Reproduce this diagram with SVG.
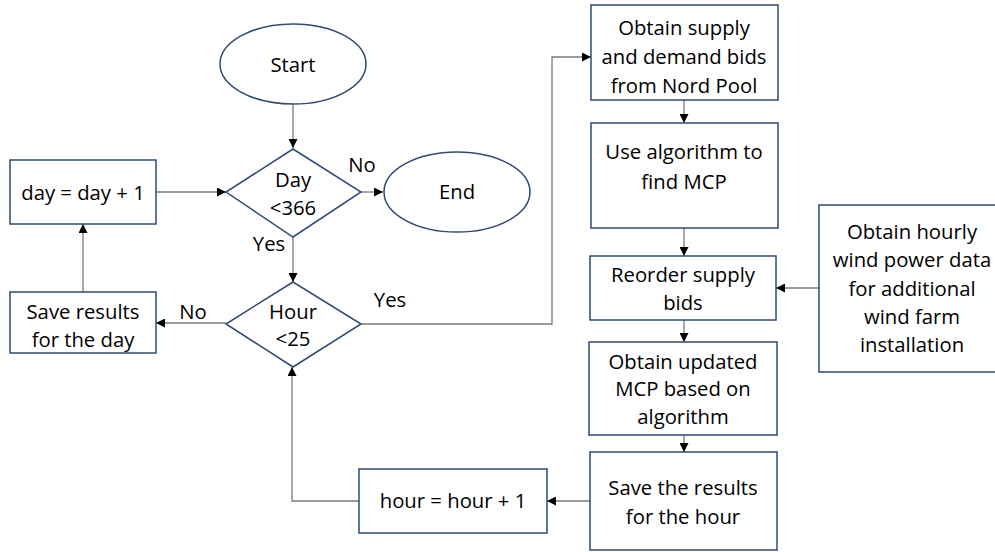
<svg xmlns="http://www.w3.org/2000/svg" width="995" height="552" viewBox="0 0 995 552">
  <style>
    .shape { fill: #ffffff; stroke: #2F4A74; stroke-width: 1.5; }
    .conn { fill: none; stroke: #7a7a7a; stroke-width: 1.3; }
    text { font-family: "Open Sans", "Noto Sans", sans-serif; font-size: 20.3px; fill: #000000; text-anchor: middle; }
  </style>
  <defs>
    <marker id="arrow" viewBox="0 0 10 10" refX="10" refY="5" markerWidth="9" markerHeight="9" markerUnits="userSpaceOnUse" orient="auto">
      <path d="M0,0 L10,5 L0,10 Z" fill="#000000"/>
    </marker>
  </defs>
  <rect width="995" height="552" fill="#ffffff"/>

  <g id="connectors">
    <line class="conn" x1="293" y1="104" x2="293" y2="148" marker-end="url(#arrow)"/>
    <line class="conn" x1="361" y1="192" x2="383" y2="192" marker-end="url(#arrow)"/>
    <line class="conn" x1="293" y1="237" x2="293" y2="282" marker-end="url(#arrow)"/>
    <line class="conn" x1="156" y1="192" x2="226" y2="192" marker-end="url(#arrow)"/>
    <line class="conn" x1="83" y1="292" x2="83" y2="224" marker-end="url(#arrow)"/>
    <line class="conn" x1="226" y1="323" x2="156" y2="323" marker-end="url(#arrow)"/>
    <polyline class="conn" points="361,324 552,324 552,57 591,57" marker-end="url(#arrow)"/>
    <line class="conn" x1="684" y1="100" x2="684" y2="123" marker-end="url(#arrow)"/>
    <line class="conn" x1="684" y1="228" x2="684" y2="256" marker-end="url(#arrow)"/>
    <line class="conn" x1="684" y1="320" x2="684" y2="342" marker-end="url(#arrow)"/>
    <line class="conn" x1="684" y1="435" x2="684" y2="452" marker-end="url(#arrow)"/>
    <line class="conn" x1="819" y1="288" x2="776" y2="288" marker-end="url(#arrow)"/>
    <line class="conn" x1="590" y1="501" x2="547" y2="501" marker-end="url(#arrow)"/>
    <polyline class="conn" points="359,501 292,501 292,367" marker-end="url(#arrow)"/>
    <text x="362" y="172">No</text>
    <text x="269" y="251">Yes</text>
    <text x="390" y="307">Yes</text>
    <text x="193" y="319">No</text>
  </g>

  <g id="start">
    <ellipse class="shape" cx="293" cy="64" rx="73" ry="40"/>
    <text x="293" y="72">Start</text>
  </g>
  <g id="day-check">
    <polygon class="shape" points="293,149 361,192 293,237 226,192"/>
    <text x="293" y="187">Day</text>
    <text x="293" y="215">&lt;366</text>
  </g>
  <g id="end">
    <ellipse class="shape" cx="457" cy="192" rx="73" ry="40"/>
    <text x="457" y="199">End</text>
  </g>
  <g id="day-inc">
    <rect class="shape" x="10" y="160" width="146" height="64"/>
    <text x="83" y="200">day = day + 1</text>
  </g>
  <g id="save-day">
    <rect class="shape" x="10" y="292" width="146" height="61"/>
    <text x="83" y="319">Save results</text>
    <text x="83" y="347">for the day</text>
  </g>
  <g id="hour-check">
    <polygon class="shape" points="293,282 361,324 293,367 226,324"/>
    <text x="293" y="319">Hour</text>
    <text x="293" y="346">&lt;25</text>
  </g>
  <g id="obtain-bids">
    <rect class="shape" x="591" y="5" width="187" height="95"/>
    <text x="684" y="35">Obtain supply</text>
    <text x="684" y="64">and demand bids</text>
    <text x="684" y="93">from Nord Pool</text>
  </g>
  <g id="find-mcp">
    <rect class="shape" x="591" y="123" width="187" height="105"/>
    <text x="684" y="159">Use algorithm to</text>
    <text x="684" y="189">find MCP</text>
  </g>
  <g id="reorder">
    <rect class="shape" x="590" y="256" width="186" height="64"/>
    <text x="683" y="282">Reorder supply</text>
    <text x="683" y="310">bids</text>
  </g>
  <g id="updated-mcp">
    <rect class="shape" x="589" y="342" width="188" height="93"/>
    <text x="683" y="369">Obtain updated</text>
    <text x="683" y="396">MCP based on</text>
    <text x="683" y="424">algorithm</text>
  </g>
  <g id="save-hour">
    <rect class="shape" x="590" y="452" width="187" height="98"/>
    <text x="683" y="495">Save the results</text>
    <text x="683" y="524">for the hour</text>
  </g>
  <g id="wind-data">
    <rect class="shape" x="819" y="205" width="186" height="167"/>
    <text x="912" y="239">Obtain hourly</text>
    <text x="912" y="267">wind power data</text>
    <text x="912" y="296">for additional</text>
    <text x="912" y="324">wind farm</text>
    <text x="912" y="352">installation</text>
  </g>
  <g id="hour-inc">
    <rect class="shape" x="359" y="469" width="188" height="64"/>
    <text x="453" y="508">hour = hour + 1</text>
  </g>
</svg>
